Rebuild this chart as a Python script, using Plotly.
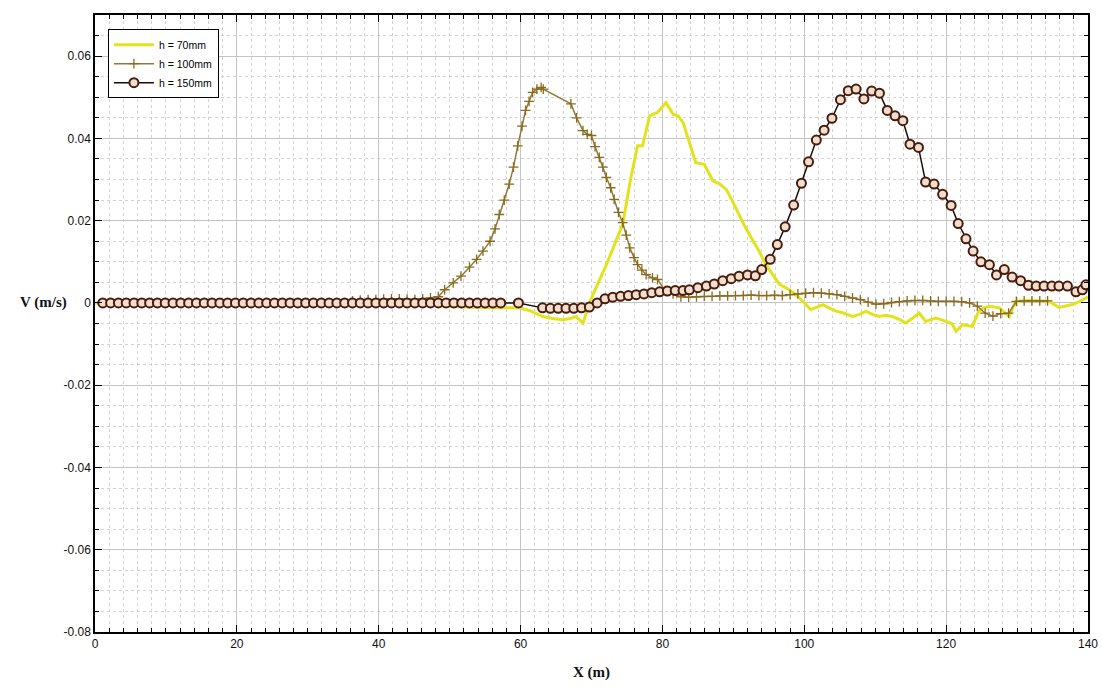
import plotly.graph_objects as go

# ---------------- data ----------------
X_FLAT = [1.1, 2.2, 3.3, 4.4, 5.5, 6.6, 7.7, 8.8, 9.9, 11.0, 12.1, 13.2, 14.3,
          15.4, 16.5, 17.6, 18.7, 19.8, 20.9, 22.0, 23.1, 24.2, 25.3, 26.4,
          27.5, 28.6, 29.7, 30.8, 31.9, 33.0, 34.1, 35.2, 36.3, 37.4, 38.5,
          39.6, 40.7, 41.8, 42.9, 44.0, 45.1, 46.2, 47.3, 48.4, 49.5, 50.6,
          51.7, 52.8, 53.9, 55.0, 56.1, 57.2]

# h = 70 mm
x70 = [0.0, 10.0, 20.0, 30.0, 40.0, 47.0, 49.0, 52.0, 55.0, 58.0, 59.9, 61.5,
       63.1, 64.5, 66.0, 67.0, 67.8, 68.8, 69.7, 70.9, 72.1, 73.2, 74.4, 75.5,
       76.5, 77.2, 78.2, 79.3, 80.5, 81.5, 82.2, 82.9, 83.8, 84.7, 85.9, 87.1,
       88.0, 89.0, 89.8, 90.6, 91.5, 92.5, 93.5, 94.6, 95.5, 96.5, 97.9, 98.8,
       99.8, 100.9, 101.8, 102.6, 103.5, 104.5, 105.6, 106.8, 107.8, 108.7,
       109.6, 110.6, 111.5, 112.4, 113.4, 114.3, 115.2, 116.2, 117.1, 118.5,
       119.2, 120.0, 120.8, 121.4, 122.3, 123.0, 123.7, 124.6, 125.3, 126.1,
       127.5, 128.9, 129.8, 131.7, 133.0, 134.5, 135.9, 136.8, 137.8, 139.0,
       140.0]
v70 = [0.0, 0.0, 0.0, 0.0, 0.0, 0.0, -0.0008, -0.0010, -0.0011, -0.0012,
       -0.0012, -0.0020, -0.0033, -0.0038, -0.0041, -0.0038, -0.0033, -0.0049,
       0.0, 0.0047, 0.0093, 0.0140, 0.0191, 0.0300, 0.0382, 0.0382, 0.0455,
       0.0463, 0.0487, 0.0459, 0.0455, 0.0439, 0.0390, 0.0341, 0.0337, 0.0297,
       0.0290, 0.0276, 0.0250, 0.0220, 0.0190, 0.0159, 0.0130, 0.0093, 0.0070,
       0.0045, 0.0032, 0.0020, 0.0004, -0.0016, -0.0010, -0.0004, -0.0012,
       -0.0020, -0.0025, -0.0033, -0.0028, -0.0020, -0.0028, -0.0033, -0.0030,
       -0.0033, -0.0040, -0.0049, -0.0038, -0.0024, -0.0045, -0.0037, -0.0040,
       -0.0045, -0.0050, -0.0069, -0.0053, -0.0055, -0.0057, -0.0020, -0.0012,
       -0.0008, -0.0012, -0.0033, 0.0004, 0.0006, 0.0005, 0.0004, -0.0011,
       -0.0008, -0.0004, 0.0005, 0.0015]

# h = 100 mm
x100 = X_FLAT[:44] + [
    49.3, 50.5, 51.6, 52.8, 53.8, 54.7, 55.7, 56.4, 57.0, 57.7, 58.4, 59.0,
    59.6, 60.2, 60.7, 61.2, 61.7, 62.3, 62.9, 63.2, 67.1, 67.9, 68.8, 69.4,
    70.0, 70.5, 71.1, 71.6, 72.1, 72.7, 73.2, 73.8, 74.4, 74.9, 75.4, 76.0,
    76.5, 77.1, 77.7, 78.6, 79.3, 80.4, 81.5, 82.6, 83.7, 84.8, 85.9, 87.0,
    88.1, 89.2, 90.3, 91.4, 92.5, 93.6, 94.7, 95.8, 96.9, 98.0, 99.1, 100.2,
    101.3, 102.4, 103.5, 104.6, 105.7, 106.8, 107.9, 109.0, 110.1, 111.2,
    112.3, 113.4, 114.5, 115.6, 116.7, 117.8, 118.9, 120.0, 121.1, 122.2,
    123.3, 124.4, 125.5, 126.6, 127.7, 128.8, 129.9, 131.0, 132.1, 133.2,
    134.3]
v100 = [0.0, 0.0, 0.0, 0.0, 0.0, 0.0, 0.0, 0.0, 0.0, 0.0, 0.0, 0.0, 0.0, 0.0,
        0.0, 0.0, 0.0, 0.0, 0.0, 0.0, 0.0, 0.0, 0.0, 0.0, 0.0, 0.0, 0.0, 0.0,
        0.0, 0.0, 0.0, 0.0,
        0.0005, 0.0007, 0.0008, 0.0008, 0.0009, 0.0010, 0.0010, 0.0009,
        0.0008, 0.0010, 0.0012, 0.0015,
        0.0032, 0.0049, 0.0065, 0.0087, 0.0106, 0.0126, 0.0150, 0.0180,
        0.0215, 0.0250, 0.0289, 0.0330, 0.0382, 0.0430, 0.0468, 0.0490,
        0.0512, 0.0520, 0.0524, 0.0520, 0.0484, 0.0450, 0.0419, 0.0410,
        0.0407, 0.0380, 0.0354, 0.0330, 0.0305, 0.0280, 0.0252, 0.0220,
        0.0195, 0.0165, 0.0134, 0.0110, 0.0093, 0.0080, 0.0069, 0.0061,
        0.0057, 0.0030, 0.0022, 0.0015, 0.0014, 0.0015, 0.0016, 0.0016,
        0.0017, 0.0017, 0.0018, 0.0018, 0.0019, 0.0018, 0.0018, 0.0019,
        0.0018, 0.0020, 0.0022, 0.0024, 0.0025, 0.0024, 0.0022, 0.0020,
        0.0016, 0.0012, 0.0008, 0.0002, -0.0003, -0.0002, 0.0001, 0.0003,
        0.0005, 0.0006, 0.0006, 0.0005, 0.0004, 0.0004, 0.0004, 0.0003,
        0.0, -0.0008, -0.0025, -0.0032, -0.0026, -0.0025, 0.0004, 0.0005,
        0.0005, 0.0005, 0.0005]

# h = 150 mm
x150 = X_FLAT + [
    59.7, 63.1, 64.2, 65.3, 66.4, 67.5, 68.6, 69.7, 70.8, 71.9, 73.0, 74.1,
    75.2, 76.3, 77.4, 78.5, 79.6, 80.7, 81.8, 82.9, 83.8, 85.0, 86.2, 87.3,
    88.5, 89.7, 90.8, 92.0, 93.1, 94.0, 95.2, 96.2, 97.3, 98.5, 99.6, 100.6,
    101.7, 102.8, 103.9, 105.1, 106.2, 107.3, 108.4, 109.5, 110.6, 111.7,
    112.8, 113.9, 114.9, 116.1, 117.1, 118.3, 119.5, 120.7, 121.7, 122.8,
    123.8, 124.9, 126.1, 127.1, 128.2, 129.3, 130.5, 131.6, 132.7, 133.8,
    134.9, 135.9, 137.1, 138.3, 139.2, 139.7]
v150 = [0.0, 0.0, 0.0, 0.0, 0.0, 0.0, 0.0, 0.0, 0.0, 0.0, 0.0, 0.0, 0.0,
        0.0, 0.0, 0.0, 0.0, 0.0, 0.0, 0.0, 0.0, 0.0, 0.0, 0.0, 0.0, 0.0,
        0.0, 0.0, 0.0, 0.0, 0.0, 0.0, 0.0, 0.0, 0.0, 0.0, 0.0, 0.0, 0.0,
        0.0, 0.0, 0.0, 0.0, 0.0, 0.0, 0.0, 0.0, 0.0, 0.0, 0.0, 0.0, 0.0,
        0.0, -0.0012, -0.0013, -0.0013, -0.0013, -0.0013, -0.0012, -0.0010,
        0.0, 0.0010, 0.0014, 0.0016, 0.0018, 0.0020, 0.0022, 0.0025, 0.0027,
        0.0029, 0.0030, 0.0030, 0.0032, 0.0037, 0.0041, 0.0046, 0.0054,
        0.0059, 0.0065, 0.0068, 0.0066, 0.0081, 0.0106, 0.0142, 0.0185,
        0.0238, 0.0291, 0.0343, 0.0396, 0.0420, 0.0449, 0.0494, 0.0516,
        0.0520, 0.0496, 0.0515, 0.0510, 0.0468, 0.0455, 0.0443, 0.0386,
        0.0378, 0.0294, 0.0289, 0.0264, 0.0237, 0.0193, 0.0156, 0.0126,
        0.0100, 0.0093, 0.0068, 0.0081, 0.0063, 0.0054, 0.0043, 0.0041,
        0.0041, 0.0041, 0.0041, 0.0041, 0.0027, 0.0032, 0.0044]

names = ["h = 70mm", "h = 100mm", "h = 150mm"]
x_ticks = [0, 20, 40, 60, 80, 100, 120, 140]
y_ticks = [-0.08, -0.06, -0.04, -0.02, 0, 0.02, 0.04, 0.06]
y_tick_text = ["-0.08", "-0.06", "-0.04", "-0.02", "0", "0.02", "0.04", "0.06"]

# ---------------- figure ----------------
fig = go.Figure()
fig.add_trace(go.Scatter(
    x=x70, y=v70, mode="lines", name=names[0],
    line=dict(color="#e3e31c", width=3)))
fig.add_trace(go.Scatter(
    x=x100, y=v100, mode="lines+markers", name=names[1],
    line=dict(color="#8f7b3a", width=1.5),
    marker=dict(symbol="cross-thin", size=7,
                line=dict(color="#8a6a1e", width=1.3))))
fig.add_trace(go.Scatter(
    x=x150, y=v150, mode="lines+markers", name=names[2],
    line=dict(color="#1a0c08", width=1.5),
    marker=dict(symbol="circle", size=9, color="rgba(240,222,206,1)",
                line=dict(color="#4a1c0e", width=2))))

tick_font = dict(family="Liberation Sans Narrow, Liberation Sans, Arial",
                 size=12, color="#111")
fig.update_xaxes(
    range=[0, 140], tickvals=x_ticks, ticks="inside", ticklen=7,
    tickcolor="#000", showline=True, linecolor="#000", linewidth=1.5,
    mirror="allticks", showgrid=True, gridcolor="#c4c4c4", gridwidth=1,
    zeroline=False, tickfont=tick_font, automargin=False,
    minor=dict(dtick=2, ticks="inside", ticklen=4, tickcolor="#000",
               showgrid=True, gridcolor="#d2d2d2", griddash="dot"))
fig.update_yaxes(
    range=[-0.08, 0.07], tickvals=y_ticks, ticktext=y_tick_text,
    ticks="inside", ticklen=7, tickcolor="#000", showline=True,
    linecolor="#000", linewidth=1.5, mirror="allticks", showgrid=True,
    gridcolor="#c4c4c4", gridwidth=1, zeroline=False, tickfont=tick_font,
    automargin=False,
    minor=dict(dtick=0.005, tick0=0, ticks="inside", ticklen=4,
               tickcolor="#000", showgrid=True, gridcolor="#d2d2d2",
               griddash="dot"))

fig.add_annotation(text="<b>V (m/s)</b>", xref="paper", yref="y",
                   x=-0.052, y=0, showarrow=False, xanchor="center",
                   font=dict(family="Liberation Serif, Times New Roman",
                             size=15, color="#111"))
fig.add_annotation(text="<b>X (m)</b>", xref="paper", yref="paper",
                   x=0.5, y=-0.066, showarrow=False, yanchor="middle",
                   font=dict(family="Liberation Serif, Times New Roman",
                             size=15, color="#111"))

fig.update_layout(
    width=1102, height=687,
    margin=dict(l=95, r=14, t=15, b=55),
    paper_bgcolor="white", plot_bgcolor="white",
    showlegend=True,
    legend=dict(x=0.013, y=0.977, xanchor="left", yanchor="top",
                bgcolor="white", bordercolor="#000", borderwidth=1,
                font=dict(family="Liberation Sans, Arial", size=10.5,
                          color="#000"),
                tracegroupgap=0, itemwidth=40),
)

fig.write_html(
    "out.html",
    config={"displayModeBar": False},
    post_script="document.body.style.margin='0';"
                "document.body.style.overflow='hidden';")
